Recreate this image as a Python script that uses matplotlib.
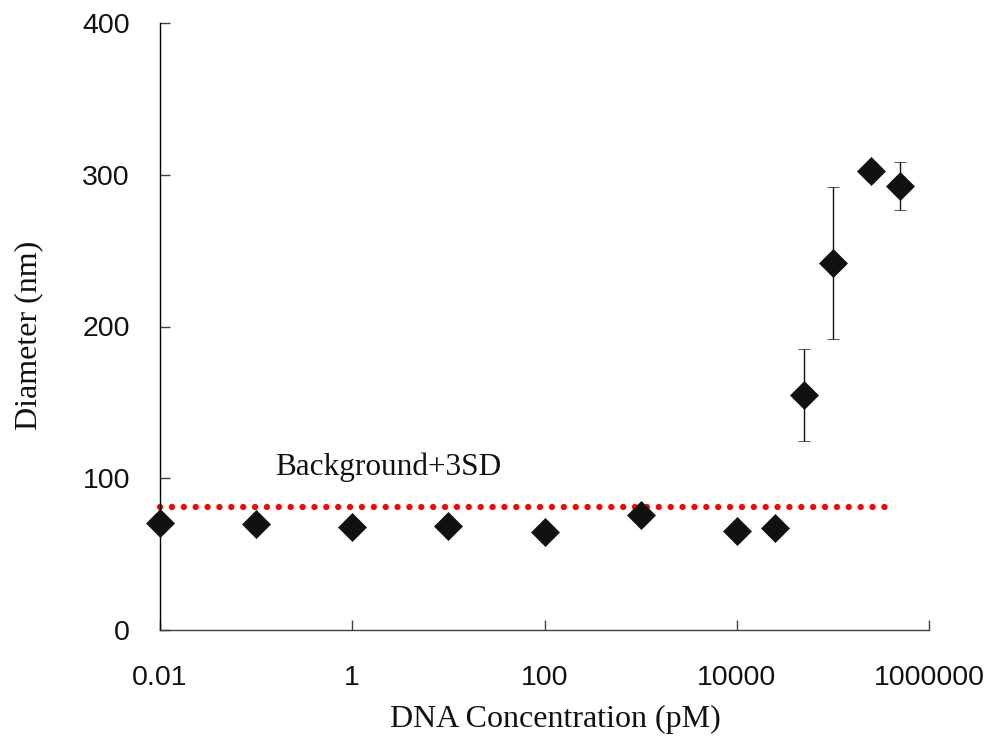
import matplotlib
matplotlib.use("Agg")
import matplotlib.pyplot as plt
from matplotlib.ticker import FixedLocator, FixedFormatter, NullLocator

# ---- data ----
concentration_pM = [0.01, 0.1, 1, 10, 100, 1000, 10000, 25000, 50000, 100000, 250000, 500000]
diameter_nm = [70.3, 70.0, 67.7, 68.5, 64.5, 75.8, 65.4, 67.4, 155.0, 241.8, 302.3, 292.5]
diameter_err = [0, 0, 0, 0, 0, 0, 0, 0, 30.5, 50.0, 3.5, 16.0]

background_x = [0.01, 430000]
background_y = [81.2, 81.2]
background_label = "Background+3SD"

x_ticks = [0.01, 1, 100, 10000, 1000000]
x_tick_labels = ["0.01", "1", "100", "10000", "1000000"]
y_ticks = [0, 100, 200, 300, 400]
y_tick_labels = ["0", "100", "200", "300", "400"]

x_label = "DNA Concentration (pM)"
y_label = "Diameter (nm)"

# ---- figure ----
fig = plt.figure(figsize=(9.9, 7.4), dpi=100)
ax = fig.add_axes([160 / 990, 110 / 740, 769 / 990, 607 / 740])

ax.set_xscale("log")
ax.set_xlim(0.01, 1000000)
ax.set_ylim(0, 400)

# background + 3SD dotted line
ax.plot(background_x, background_y, color="#ff0000", linewidth=4.5,
        linestyle=(0, (0.01, 1.89)), dash_capstyle="round", clip_on=False, zorder=2)
ax.text(0.157, 102, background_label, fontsize=22.5, family="Liberation Serif",
        ha="left", va="baseline", color="#111111")

# data with error bars
ax.errorbar(concentration_pM, diameter_nm, yerr=diameter_err, fmt="D",
            color="#111111", markersize=14, markeredgewidth=0.5,
            ecolor="#111111", elinewidth=1.0, capsize=4, capthick=1.0,
            clip_on=False, zorder=3)

# spines
for s in ("top", "right"):
    ax.spines[s].set_visible(False)
ax.spines["left"].set_color("#000000")
ax.spines["bottom"].set_color("#404040")
ax.spines["left"].set_linewidth(1.0)
ax.spines["bottom"].set_linewidth(1.0)

# ticks
ax.xaxis.set_major_locator(FixedLocator(x_ticks))
ax.xaxis.set_major_formatter(FixedFormatter(x_tick_labels))
ax.xaxis.set_minor_locator(NullLocator())
ax.yaxis.set_major_locator(FixedLocator(y_ticks))
ax.yaxis.set_major_formatter(FixedFormatter(y_tick_labels))

ax.tick_params(axis="x", direction="in", length=7.2, width=1.0, color="#404040",
               pad=25, labelsize=20.5)
ax.tick_params(axis="y", direction="in", length=7.2, width=1.0, color="#404040",
               pad=21.6, labelsize=20.5)
for lab in ax.get_xticklabels() + ax.get_yticklabels():
    lab.set_family("Liberation Sans")
    lab.set_color("#111111")

# axis labels
ax.set_xlabel(x_label, fontsize=23, family="Liberation Serif", color="#111111")
ax.xaxis.set_label_coords((555 - 160) / 769, (630 - 727) / 607)
ax.xaxis.label.set_va("baseline")
ax.set_ylabel(y_label, fontsize=23, family="Liberation Serif", color="#111111")
ax.yaxis.set_label_coords((29 - 160) / 769, (630 - 335) / 607)
ax.yaxis.label.set_va("center")

fig.savefig("out.png", dpi=100)
